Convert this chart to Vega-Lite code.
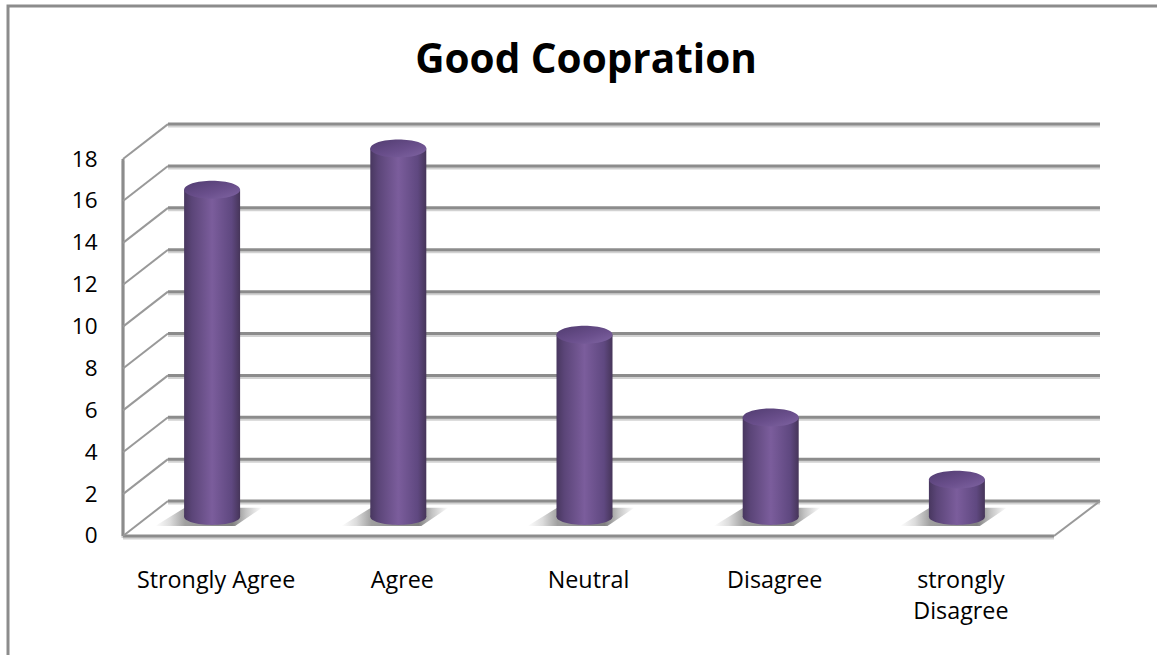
{
"$schema":"https://vega.github.io/schema/vega-lite/v6.json",
"width":1157,"height":655,"padding":0,"autosize":{"type":"none"},
"background":"#ffffff",
"config":{"view":{"stroke":null},"font":"Open Sans"},
"title":{"text":"Good Coopration","orient":"top","anchor":"middle","frame":"group","offset":-113,"baseline":"alphabetic","dx":7.5,"fontSize":40.5,"fontWeight":"bold","font":"Open Sans","color":"#000000"},
"datasets":{
"walls":[
{"s":"b0","u":0.2417,"v":1.67},{"s":"b0","u":5.247,"v":1.67},
{"s":"b2","u":0.2417,"v":3.67},{"s":"b2","u":5.247,"v":3.67},
{"s":"b4","u":0.2417,"v":5.67},{"s":"b4","u":5.247,"v":5.67},
{"s":"b6","u":0.2417,"v":7.67},{"s":"b6","u":5.247,"v":7.67},
{"s":"b8","u":0.2417,"v":9.67},{"s":"b8","u":5.247,"v":9.67},
{"s":"b10","u":0.2417,"v":11.67},{"s":"b10","u":5.247,"v":11.67},
{"s":"b12","u":0.2417,"v":13.67},{"s":"b12","u":5.247,"v":13.67},
{"s":"b14","u":0.2417,"v":15.67},{"s":"b14","u":5.247,"v":15.67},
{"s":"b16","u":0.2417,"v":17.67},{"s":"b16","u":5.247,"v":17.67},
{"s":"b18","u":0.2417,"v":19.67},{"s":"b18","u":5.247,"v":19.67},
{"s":"left","u":0,"v":0},{"s":"left","u":0,"v":18},
{"s":"floor","u":0,"v":0},{"s":"floor","u":5,"v":0}
],
"diagonals":[
{"s":"d0","u":0,"v":0},{"s":"d0","u":0.2417,"v":1.67},
{"s":"d2","u":0,"v":2},{"s":"d2","u":0.2417,"v":3.67},
{"s":"d4","u":0,"v":4},{"s":"d4","u":0.2417,"v":5.67},
{"s":"d6","u":0,"v":6},{"s":"d6","u":0.2417,"v":7.67},
{"s":"d8","u":0,"v":8},{"s":"d8","u":0.2417,"v":9.67},
{"s":"d10","u":0,"v":10},{"s":"d10","u":0.2417,"v":11.67},
{"s":"d12","u":0,"v":12},{"s":"d12","u":0.2417,"v":13.67},
{"s":"d14","u":0,"v":14},{"s":"d14","u":0.2417,"v":15.67},
{"s":"d16","u":0,"v":16},{"s":"d16","u":0.2417,"v":17.67},
{"s":"d18","u":0,"v":18},{"s":"d18","u":0.2417,"v":19.67},
{"s":"dr","u":5,"v":0},{"s":"dr","u":5.247,"v":1.67}
],
"border":[
{"s":"border","u":-0.6176,"v":-5.7},{"s":"border","u":-0.6176,"v":25.31},{"s":"border","u":5.56,"v":25.31}
],
"bars":[
{"category":"Strongly Agree","count":16},
{"category":"Agree","count":18},
{"category":"Neutral","count":9},
{"category":"Disagree","count":5},
{"category":"strongly Disagree","count":2}
]},
"resolve":{"scale":{"x":"independent","y":"independent"}},
"layer":[
{"encoding":{
 "x":{"field":"u","type":"quantitative","scale":{"domain":[-0.6606,5.5532],"nice":false,"zero":false},"axis":null},
 "y":{"field":"v","type":"quantitative","scale":{"domain":[-5.683,25.597],"nice":false,"zero":false},
   "axis":{"orient":"left","offset":-123,"values":[0,2,4,6,8,10,12,14,16,18],"title":null,"grid":false,"domain":false,"ticks":false,"labelPadding":26,"labelFontSize":22.5,"labelFont":"Open Sans","labelColor":"#000000"}},
 "detail":{"field":"s"}},
 "layer":[
 {"data":{"name":"walls"},"mark":{"type":"line","stroke":"#d2d2d2","strokeWidth":3,"yOffset":2,"clip":false}},
 {"data":{"name":"walls"},"mark":{"type":"line","stroke":"#8c8c8c","strokeWidth":3,"clip":false}},
 {"data":{"name":"diagonals"},"mark":{"type":"line","stroke":"#999999","strokeWidth":2,"clip":false}},
 {"data":{"name":"border"},"mark":{"type":"line","stroke":"#8c8c8c","strokeWidth":3,"clip":false}}
 ]},
{"data":{"name":"bars"},
 "encoding":{
 "x":{"field":"category","type":"nominal","sort":null,"scale":{"range":[123,1054],"paddingInner":0,"paddingOuter":0},
   "axis":{"orient":"bottom","offset":-108,"title":null,"grid":false,"domain":false,"ticks":false,"labelAngle":0,"labelPadding":40,"labelBaseline":"alphabetic","labelFontSize":23.3,"labelFont":"Open Sans","labelColor":"#000000","labelLineHeight":31,"labelLimit":0,"labelExpr":"datum.label == 'strongly Disagree' ? ['strongly','Disagree'] : datum.label"}},
 "y":{"field":"count","type":"quantitative","scale":{"domain":[-6.473,25.169],"nice":false,"zero":false},"axis":null}},
 "layer":[
 {"mark":{"type":"point","filled":true,"opacity":1,"xOffset":-8,"size":11664,"shape":"M-0.98,0.17 L-0.43,-0.17 L1,-0.17 L0.5,0.17 Z",
   "fill":{"gradient":"linear","x1":0,"y1":0,"x2":1,"y2":0,"stops":[{"offset":0,"color":"#ffffff"},{"offset":0.14,"color":"#dcdcdc"},{"offset":0.28,"color":"#a0a0a0"},{"offset":0.72,"color":"#808080"},{"offset":0.85,"color":"#c4c4c4"},{"offset":1,"color":"#ffffff"}]}},
  "encoding":{"y":{"datum":0.2,"type":"quantitative"}}},
 {"mark":{"type":"bar","size":56,"xOffset":-4,
   "fill":{"gradient":"linear","x1":0,"y1":0,"x2":1,"y2":0,"stops":[{"offset":0,"color":"#48375f"},{"offset":0.14,"color":"#5b4578"},{"offset":0.5,"color":"#7b5d9c"},{"offset":0.85,"color":"#5f4880"},{"offset":1,"color":"#463559"}]}},
  "encoding":{"y2":{"datum":0.2}}},
 {"mark":{"type":"point","filled":true,"opacity":1,"xOffset":-4,"size":3136,"shape":"M-1,0 A1,0.29 0 1 1 1,0 A1,0.29 0 1 1 -1,0 Z",
   "fill":{"gradient":"linear","x1":0,"y1":0,"x2":1,"y2":0,"stops":[{"offset":0,"color":"#48375f"},{"offset":0.14,"color":"#5b4578"},{"offset":0.5,"color":"#7b5d9c"},{"offset":0.85,"color":"#5f4880"},{"offset":1,"color":"#463559"}]}},
  "encoding":{"y":{"datum":0.2,"type":"quantitative"}}},
 {"mark":{"type":"point","filled":true,"opacity":1,"xOffset":-4,"size":3136,"shape":"M-1,0 A1,0.32 0 1 1 1,0 A1,0.32 0 1 1 -1,0 Z",
   "fill":{"gradient":"linear","x1":0,"y1":0,"x2":0.9,"y2":1,"stops":[{"offset":0,"color":"#513c70"},{"offset":0.6,"color":"#6a4f8c"},{"offset":1,"color":"#7d62a0"}]}}}
 ]}
]
}
